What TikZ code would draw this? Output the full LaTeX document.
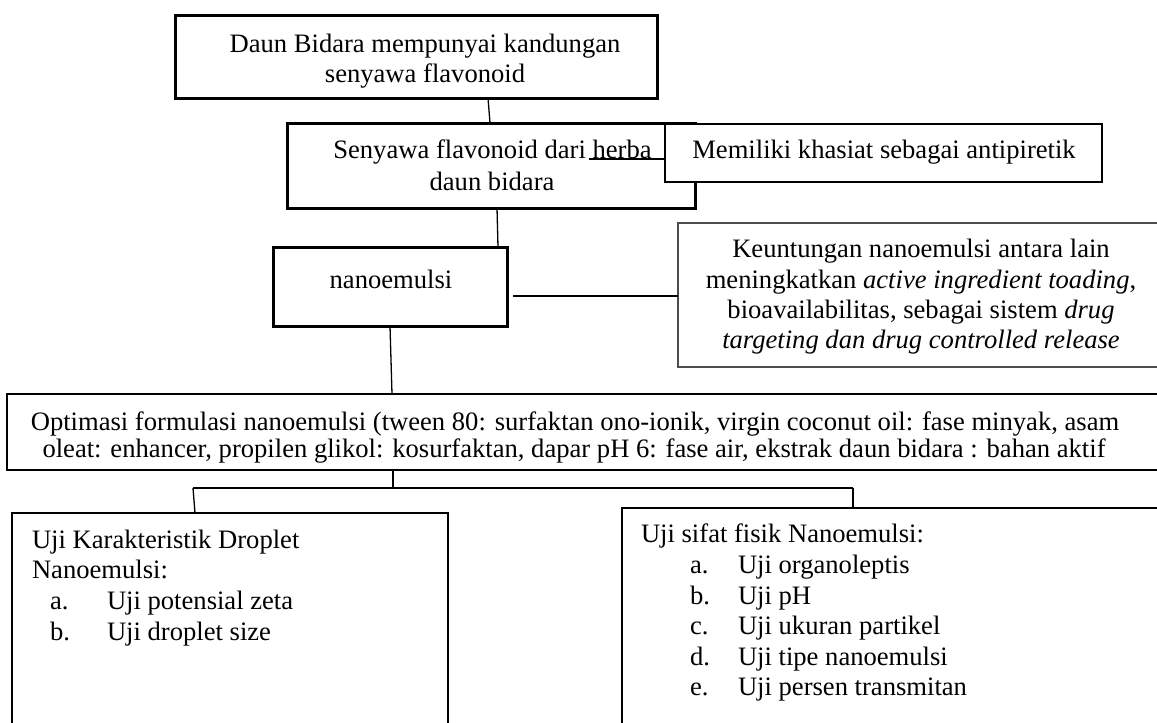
\documentclass[tikz,border=0pt]{standalone}
\usepackage{fontspec}
\setmainfont{Liberation Serif}
\begin{document}
\begin{tikzpicture}[x=1pt,y=-1pt,
  every node/.style={inner sep=0pt,outer sep=0pt},
  txt/.style={anchor=base,font=\fontsize{26.6}{30.5}\selectfont},
  txtl/.style={anchor=base west,font=\fontsize{26.6}{30.5}\selectfont},
  boxbase/.style={rectangle,fill=white,inner sep=0pt},
  thickbox/.style={boxbase,draw=black,line width=3pt},
  thinbox/.style={boxbase,draw=black,line width=1.3pt},
  greybox/.style={boxbase,draw=black!70,line width=1.6pt},
  conn/.style={draw=black,line width=1.3pt},
  thickconn/.style={draw=black,line width=2.6pt}]
\useasboundingbox (0,0) rectangle (1157,723);
\clip (0,0) rectangle (1157,723);

% boxes
\node[thickbox,minimum width=482pt,minimum height=83pt] (b1) at (416,56.5) {};
\node[thickbox,minimum width=408pt,minimum height=85pt] (b2) at (491,165.5) {};
\node[thinbox,minimum width=437pt,minimum height=58pt] (b3) at (883.5,153) {};
\node[thickbox,minimum width=234pt,minimum height=79pt] (b4) at (390,286.5) {};
\node[greybox,minimum width=492pt,minimum height=144pt] (b5) at (924,295) {};
\node[thinbox,minimum width=1163pt,minimum height=76pt] (b6) at (588.5,432) {};
\node[thinbox,minimum width=436pt,minimum height=227pt] (b7) at (230,626.5) {};
\node[thinbox,minimum width=548pt,minimum height=232pt] (b8) at (896,624) {};

% texts
\node[txt] (t1a) at (425,52) {Daun Bidara mempunyai kandungan};
\node[txt] (t1b) at (425,82) {senyawa flavonoid};
\node[txt] (t2a) at (492.5,158) {Senyawa flavonoid dari herba};
\node[txt] (t2b) at (492,190) {daun bidara};
\node[txt] (t3) at (884,158) {Memiliki khasiat sebagai antipiretik};
\node[txt] (t4) at (391,288) {nanoemulsi};
\node[txt] (t5a) at (921,257) {Keuntungan nanoemulsi antara lain};
\node[txt] (t5b) at (921,288) {meningkatkan \textit{active ingredient toading},};
\node[txt] (t5c) at (921,318) {bioavailabilitas, sebagai sistem \textit{drug}};
\node[txt] (t5d) at (921,348) {\textit{targeting dan drug controlled release}};
\node[txt] (t6a) at (575,430) {Optimasi formulasi nanoemulsi (tween 80: surfaktan ono-ionik, virgin coconut oil: fase minyak, asam};
\node[txt] (t6b) at (574,457) {oleat: enhancer, propilen glikol: kosurfaktan, dapar pH 6: fase air, ekstrak daun bidara : bahan aktif};
\node[txtl] (t7a) at (32,548) {Uji Karakteristik Droplet};
\node[txtl] (t7b) at (32,578) {Nanoemulsi:};
\node[txtl] (t7c) at (50,609) {a.};
\node[txtl] (t7d) at (107,609) {Uji potensial zeta};
\node[txtl] (t7e) at (50,640) {b.};
\node[txtl] (t7f) at (107,640) {Uji droplet size};
\node[txtl] (t8a) at (641,542) {Uji sifat fisik Nanoemulsi:};
\node[txtl] (t8b) at (690,573) {a.};
\node[txtl] (t8c) at (738,573) {Uji organoleptis};
\node[txtl] (t8d) at (690,604) {b.};
\node[txtl] (t8e) at (738,604) {Uji pH};
\node[txtl] (t8f) at (690,634) {c.};
\node[txtl] (t8g) at (738,634) {Uji ukuran partikel};
\node[txtl] (t8h) at (690,665) {d.};
\node[txtl] (t8i) at (738,665) {Uji tipe nanoemulsi};
\node[txtl] (t8j) at (690,695) {e.};
\node[txtl] (t8k) at (738,695) {Uji persen transmitan};

% connectors
\coordinate (hb) at (589,159);
\coordinate (j) at (393,488);
\coordinate (jl) at (193,488);
\coordinate (jr) at (853,488);
\draw[conn] (488,0 |- b1.south) -- (490,0 |- b2.north);
\draw[conn] (hb) -- (hb -| b3.west);
\draw[conn] (497,0 |- b2.south) -- (498,0 |- b4.north);
\draw[thickconn] (513,296) -- (b5.west |- 0,296);
\draw[conn] (390,0 |- b4.south) -- (392,0 |- b6.north);
\draw[conn] (j |- b6.south) -- (j);
\draw[conn] (jl) -- (jr);
\draw[conn] (jl) -- (195,0 |- b7.north);
\draw[conn] (jr) -- (jr |- b8.north);
\end{tikzpicture}
\end{document}
